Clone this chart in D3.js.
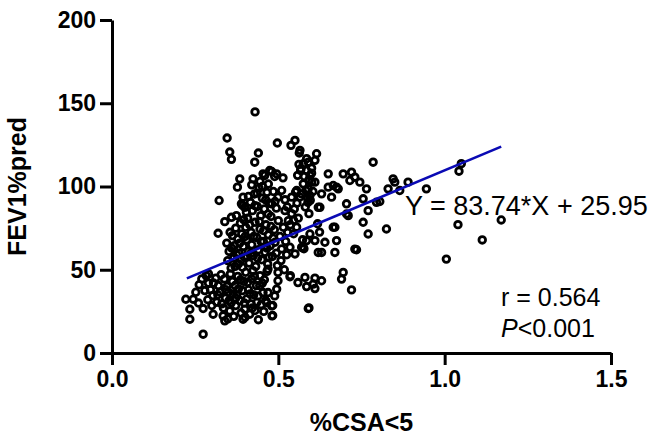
<html>
<head>
<title>FEV1 vs CSA</title>
<script src="https://d3js.org/d3.v7.min.js"></script>
<style>
  body { margin: 0; background: #fff; }
  text { font-family: "Liberation Sans", Arial, sans-serif; }
</style>
</head>
<body>
<div id="chart"></div>
<script type="text/javascript">
    // Data ***********************
    var xTicks = [0.0, 0.5, 1.0, 1.5];
    var yTicks = [0, 50, 100, 150, 200];
    var xTitle = "%CSA<5";
    var yTitle = "FEV1%pred";

    // fitted line: Y = 83.74*X + 25.95, drawn over the data range
    var fitSlope = 83.74;
    var fitIntercept = 25.95;
    var fitRange = [0.225, 1.17];

    // [%CSA<5, FEV1%pred]
    var pointsLeft = [
        [0.222,32.3],[0.244,32.3],[0.234,26.3],[0.234,20.3],[0.274,11.3],[0.274,26.7],[0.260,30.0],[0.252,36.5],
        [0.262,41.0],[0.270,44.5],[0.283,46.5],[0.290,42.0],[0.279,37.5],[0.296,38.0],[0.303,34.5],[0.288,32.0],
        [0.300,28.5],[0.304,23.3],[0.315,30.5],[0.320,40.5],[0.312,45.0],[0.325,36.5],[0.334,22.3],[0.339,19.3],
        [0.330,29.5],[0.341,33.0],[0.346,40.0],[0.338,44.5],[0.354,25.3],[0.350,36.5],[0.358,30.0],[0.362,43.0],
        [0.356,47.5],[0.348,20.5],[0.305,42.0],[0.318,35.0],[0.328,47.0],[0.342,38.0],[0.352,31.5],[0.364,35.5],
        [0.290,47.5],[0.335,27.0]
    ];
    var pointsLowBlob = [
        [0.366,22.0],[0.372,28.5],[0.375,35.0],[0.370,40.5],[0.378,46.0],[0.384,31.5],[0.388,24.0],[0.394,20.3],
        [0.399,26.3],[0.392,37.5],[0.396,43.0],[0.402,48.5],[0.405,32.5],[0.414,23.3],[0.410,38.0],[0.418,29.5],
        [0.420,44.5],[0.426,35.0],[0.430,25.5],[0.434,40.5],[0.439,34.3],[0.444,40.4],[0.454,36.3],[0.448,29.0],
        [0.445,46.5],[0.458,44.0],[0.462,31.5],[0.466,49.0],[0.440,20.0],[0.424,49.5],
        [0.372,33.0],[0.380,38.5],[0.386,44.0],[0.398,30.0],[0.408,42.5],[0.415,35.5],[0.422,27.0],[0.428,46.0],
        [0.436,30.5],[0.452,42.0],[0.456,25.0],[0.400,21.5]
    ];
    var pointsMiddle = [
        [0.322,91.6],[0.339,78.9],[0.319,71.9],[0.359,81.5],[0.374,82.5],[0.394,93.6],[0.389,89.6],[0.399,87.5],
        [0.384,104.6],[0.377,99.6],[0.424,104.6],[0.404,84.5],[0.393,88.6],
        [0.345,66.0],[0.352,61.0],[0.348,55.5],[0.358,51.0],[0.362,70.5],[0.368,64.5],[0.366,57.0],[0.372,75.0],
        [0.378,68.5],[0.382,60.0],[0.380,53.5],[0.386,78.0],[0.390,71.5],[0.395,64.0],[0.398,57.5],[0.392,51.5],
        [0.402,75.5],[0.405,68.0],[0.408,81.0],[0.410,61.0],[0.412,54.0],[0.416,90.5],[0.418,72.5],[0.420,65.0],
        [0.422,85.5],[0.425,58.5],[0.428,95.5],[0.430,78.5],[0.432,52.0],[0.435,69.5],[0.437,88.0],[0.440,62.0],
        [0.442,99.0],[0.445,74.5],[0.447,82.5],[0.450,56.0],[0.452,93.0],[0.455,67.0],[0.458,86.5],[0.460,60.5],
        [0.463,77.0],[0.466,96.5],[0.468,53.5],[0.470,71.0],[0.473,90.0],[0.476,64.5],[0.478,82.0],[0.482,58.0],
        [0.485,97.0],[0.488,74.0],[0.490,66.5],[0.494,87.0],[0.497,52.5],[0.500,79.5],
        [0.355,72.5],[0.360,63.0],[0.370,52.0],[0.375,59.0],[0.384,66.0],[0.388,56.0],[0.396,80.0],[0.400,70.0],
        [0.406,58.0],[0.414,77.0],[0.418,60.0],[0.426,70.0],[0.430,88.5],[0.438,57.0],[0.443,79.0],[0.448,67.0],
        [0.452,100.0],[0.456,73.5],[0.462,92.0],[0.466,63.0],[0.472,57.5],[0.478,76.0],[0.484,69.0],[0.490,91.0],
        [0.494,60.0],[0.436,96.0],[0.410,94.0],[0.420,101.0],[0.445,103.0],[0.470,101.5],
        [0.454,107.6],[0.480,109.0],[0.489,106.0],[0.514,105.2],[0.474,109.6],[0.495,107.6],[0.459,106.6],
        [0.440,120.1],[0.429,114.6],[0.430,144.8],[0.346,129.1],[0.354,120.7],[0.359,116.3],[0.497,126.1],
        [0.538,124.7],[0.550,127.7],[0.563,120.1]
    ];
    var pointsCentre = [
        [0.499,93.6],[0.480,89.6],[0.469,83.5],[0.520,85.5],[0.530,79.5],[0.510,97.6],[0.555,97.6],[0.540,93.6],
        [0.570,95.6],[0.595,94.6],[0.589,90.5],
        [0.499,48.4],[0.499,43.4],[0.495,38.4],[0.489,34.3],[0.480,28.3],[0.481,22.3],[0.469,50.4],[0.469,36.3],
        [0.465,30.3],[0.535,45.8],[0.559,42.3],[0.580,45.4],[0.585,39.9],[0.610,38.7],[0.630,43.4],[0.590,26.7],
        [0.505,70.0],[0.510,62.5],[0.508,55.5],[0.515,75.5],[0.518,50.0],[0.522,67.0],[0.525,59.0],[0.528,72.5],
        [0.535,63.5],[0.540,83.7],[0.546,79.6],[0.555,75.6],[0.546,71.6],[0.527,87.7],[0.550,59.5],[0.570,63.4],
        [0.585,67.5],[0.575,63.4],[0.595,71.5],[0.577,62.6],[0.573,68.0],
        [0.562,113.3],[0.567,109.7],[0.558,106.7],[0.565,93.7],[0.552,96.7],[0.565,121.7],
        [0.590,114.6],[0.575,113.7],[0.568,110.7],[0.585,109.6],[0.595,106.6],[0.600,102.6],[0.610,102.6],
        [0.590,98.6],[0.575,101.6],[0.583,97.7],[0.592,83.7],[0.581,87.7],[0.596,91.7],[0.615,119.7],
        [0.610,115.7],[0.585,116.7],[0.600,111.0],
        [0.600,108.0],[0.592,104.0],[0.604,97.0],[0.588,93.0],[0.578,106.0],[0.556,90.0],[0.548,86.5],[0.560,81.0],
        [0.536,77.0],[0.520,92.0]
    ];
    var pointsRight = [
        [0.625,87.5],[0.620,87.5],[0.630,95.6],[0.660,93.6],[0.665,100.6],[0.680,98.6],[0.650,107.6],[0.650,99.6],
        [0.675,99.6],[0.665,75.5],[0.675,67.5],[0.640,66.5],[0.610,67.5],[0.620,60.4],[0.630,60.4],[0.670,60.4],
        [0.730,62.4],[0.705,89.6],[0.705,83.5],[0.670,75.5],[0.710,82.5],[0.695,107.6],[0.720,108.6],[0.730,105.6],
        [0.745,102.6],[0.765,98.6],[0.715,103.6],[0.755,92.6],[0.695,48.4],[0.690,44.4],[0.720,37.9],[0.605,41.4],
        [0.592,27.1],[0.536,46.5],[0.483,22.5],[0.483,28.5],[0.785,114.6],[0.795,90.5],[0.770,85.5],[0.755,78.5],
        [0.770,71.5],[0.825,74.5],[0.735,62.0],[0.610,45.0],[0.618,77.6],[0.624,72.6],
        [0.845,104.6],[0.850,102.6],[0.830,98.6],[0.865,97.6],[0.890,102.6],[0.945,98.6],[1.050,113.7],
        [1.043,109.2],[1.040,77.1],[1.113,67.9],[1.005,56.4],[1.170,79.9],[0.805,91.0]
    ];
    var points = pointsLeft.concat(pointsLowBlob, pointsMiddle, pointsCentre, pointsRight);

    // Layout ***********************
    var W = 652, H = 440;
    var margin = {top: 20, right: 41, bottom: 87, left: 112};
    var width = W - margin.left - margin.right;
    var height = H - margin.top - margin.bottom;

    var x = d3.scaleLinear().domain([0, 1.5]).range([0, width]);
    var y = d3.scaleLinear().domain([0, 200]).range([height, 0]);

    var svg = d3.select("#chart").append("svg")
        .attr("width", W)
        .attr("height", H)
        .append("g")
        .attr("transform", "translate(" + margin.left + "," + margin.top + ")");

    // points
    svg.append("g").selectAll("circle")
        .data(points)
        .enter()
        .append("circle")
        .attr("cx", function (d) { return x(d[0]); })
        .attr("cy", function (d) { return y(d[1]); })
        .attr("r", 3.3)
        .attr("fill", "none")
        .attr("stroke", "#000")
        .attr("stroke-width", 2.8);

    // regression line
    var line = d3.line()
        .x(function (d) { return x(d); })
        .y(function (d) { return y(fitSlope * d + fitIntercept); });

    svg.append("path")
        .datum(fitRange)
        .attr("fill", "none")
        .attr("stroke", "#0a0ab4")
        .attr("stroke-width", 2.6)
        .attr("d", line);

    // axes
    var xAxis = svg.append("g")
        .attr("transform", "translate(0," + height + ")")
        .call(d3.axisBottom(x).tickValues(xTicks).tickFormat(d3.format(".1f")).tickSize(12).tickSizeOuter(0).tickPadding(6));

    var yAxis = svg.append("g")
        .call(d3.axisLeft(y).tickValues(yTicks).tickSize(12).tickSizeOuter(0).tickPadding(4));

    [xAxis, yAxis].forEach(function (a) {
        a.selectAll("path, line").attr("stroke", "#000").attr("stroke-width", 3);
        a.selectAll("text")
            .attr("fill", "#000")
            .style("font-size", "23px")
            .style("font-weight", "bold");
    });

    // axis titles
    svg.append("text")
        .attr("x", width / 2)
        .attr("y", height + 78)
        .attr("text-anchor", "middle")
        .style("font-size", "25px")
        .style("font-weight", "bold")
        .text(xTitle);

    svg.append("text")
        .attr("transform", "translate(" + (-86) + "," + (height / 2) + ") rotate(-90)")
        .attr("text-anchor", "middle")
        .style("font-size", "25px")
        .style("font-weight", "bold")
        .text(yTitle);

    // annotations
    svg.append("text")
        .attr("x", 405 - margin.left)
        .attr("y", 215 - margin.top)
        .style("font-size", "27px")
        .text("Y = " + fitSlope + "*X + " + fitIntercept);

    svg.append("text")
        .attr("x", 501 - margin.left)
        .attr("y", 306 - margin.top)
        .style("font-size", "25px")
        .text("r = 0.564");

    var pText = svg.append("text")
        .attr("x", 501 - margin.left)
        .attr("y", 337 - margin.top)
        .style("font-size", "25px");
    pText.append("tspan").style("font-style", "italic").text("P");
    pText.append("tspan").text("<0.001");
</script>
</body>
</html>
